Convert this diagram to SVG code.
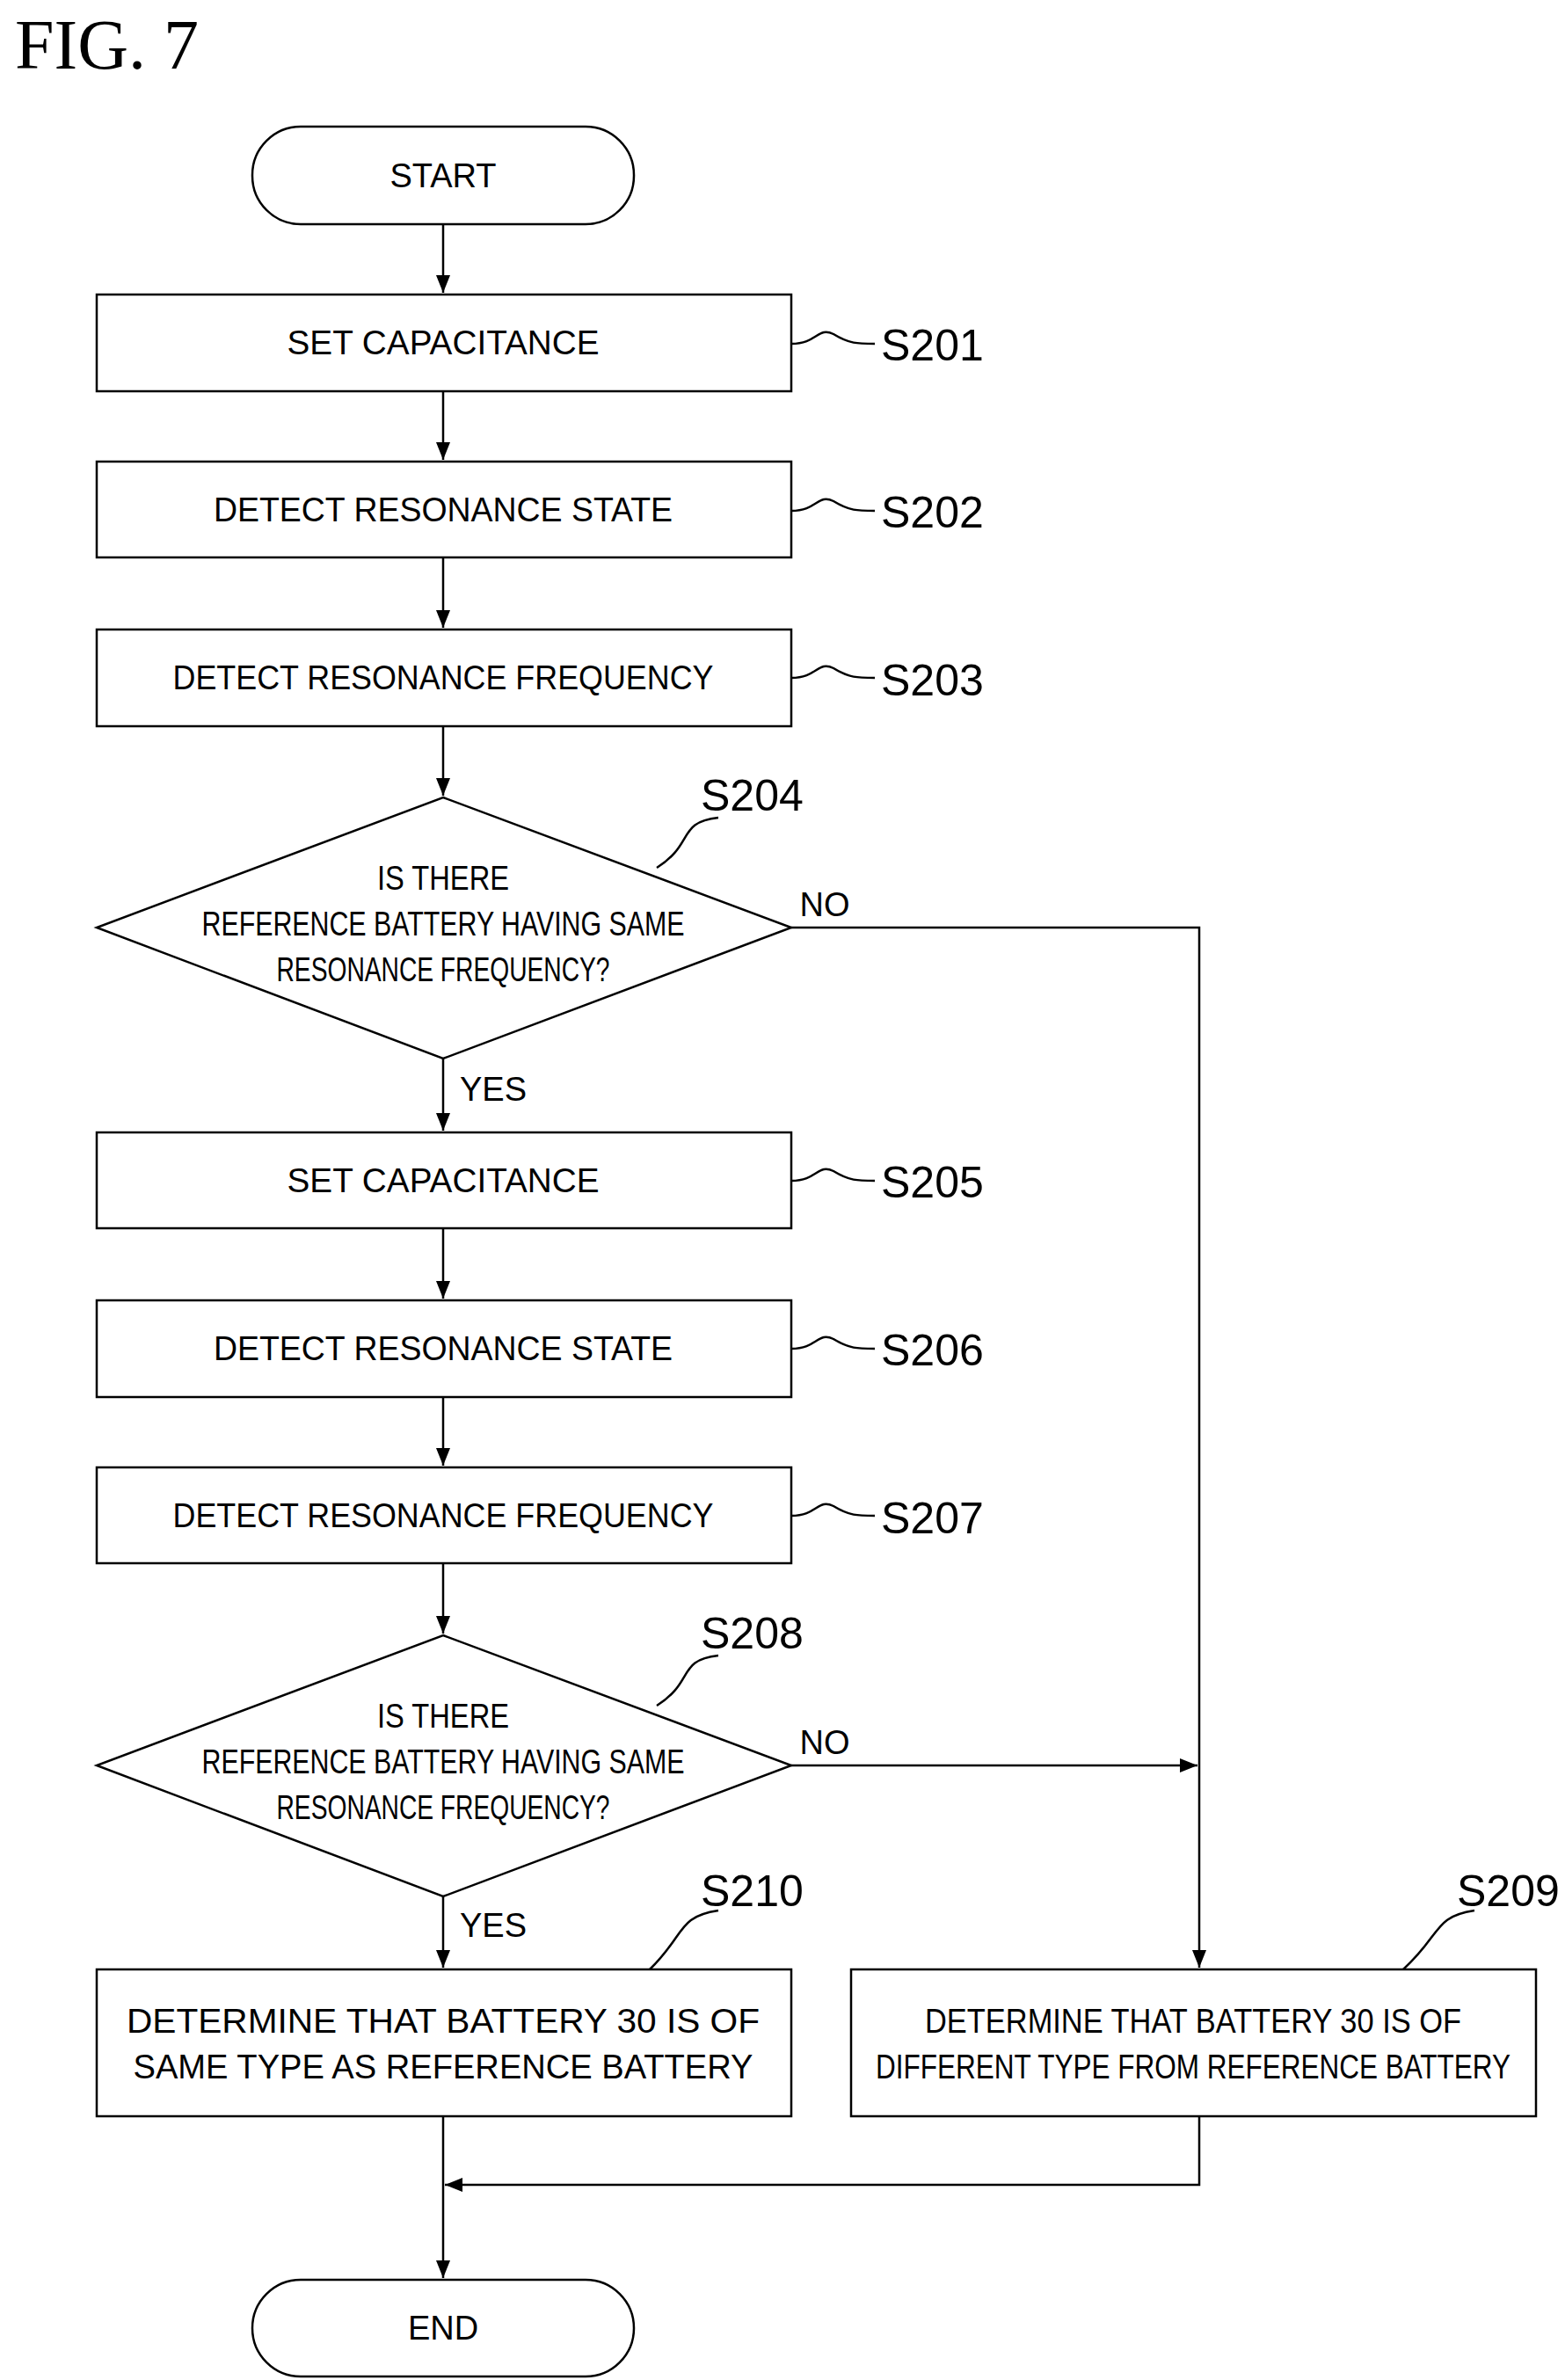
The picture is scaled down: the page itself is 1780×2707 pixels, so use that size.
<svg xmlns="http://www.w3.org/2000/svg" width="1780" height="2707" viewBox="0 0 1780 2707">
<style>
.b{fill:#fff;stroke:#000;stroke-width:2.5}
.t{font-family:"Liberation Sans",Arial,sans-serif;font-size:38px;text-anchor:middle;fill:#000}
.l{font-family:"Liberation Sans",Arial,sans-serif;font-size:50px;fill:#000}
.c{fill:none;stroke:#000;stroke-width:2.5}
</style>
<defs>
<marker id="A" markerWidth="20" markerHeight="16" refX="20" refY="8" orient="auto" markerUnits="userSpaceOnUse"><path d="M0,0 L20,8 L0,16 Z" fill="#000"/></marker></defs>
<text x="17" y="78" font-family="Liberation Serif,serif" font-size="80">FIG. 7</text>
<g id="connectors" class="c">
<path d="M504,255 V333" marker-end="url(#A)"/>
<path d="M504,445 V523" marker-end="url(#A)"/>
<path d="M504,634 V714" marker-end="url(#A)"/>
<path d="M504,826 V905" marker-end="url(#A)"/>
<path d="M504,1204 V1286" marker-end="url(#A)"/>
<path d="M504,1397 V1477" marker-end="url(#A)"/>
<path d="M504,1589 V1667" marker-end="url(#A)"/>
<path d="M504,1778 V1858" marker-end="url(#A)"/>
<path d="M504,2157 V2238" marker-end="url(#A)"/>
<path d="M504,2407 V2591" marker-end="url(#A)"/>
<path d="M900,1055 H1364 V2238" marker-end="url(#A)"/>
<path d="M900,2008 H1362" marker-end="url(#A)"/>
<path d="M1364,2407 V2485 H506" marker-end="url(#A)"/>
<path d="M900,391 C930,391 930,371 948,380 C966,391 975,391 995,391"/>
<path d="M900,581 C930,581 930,561 948,570 C966,581 975,581 995,581"/>
<path d="M900,771 C930,771 930,751 948,760 C966,771 975,771 995,771"/>
<path d="M900,1343 C930,1343 930,1323 948,1332 C966,1343 975,1343 995,1343"/>
<path d="M900,1534 C930,1534 930,1514 948,1523 C966,1534 975,1534 995,1534"/>
<path d="M900,1724 C930,1724 930,1704 948,1713 C966,1724 975,1724 995,1724"/>
<path d="M747,987 C790,960 770,935 817,930"/>
<path d="M747,1940 C790,1913 770,1888 817,1883"/>
<path d="M739,2240 C780,2200 770,2180 817,2173"/>
<path d="M1596,2240 C1640,2200 1630,2180 1677,2173"/>
</g>
<g id="start"><rect class="b" x="287" y="144" width="434" height="111" rx="55"/><text class="t" x="504" y="213">START</text></g>
<g id="s201"><rect class="b" x="110" y="335" width="790" height="110"/><text class="t" x="504" y="403" textLength="355" lengthAdjust="spacingAndGlyphs">SET  CAPACITANCE</text><text class="l" x="1002" y="410">S201</text></g>
<g id="s202"><rect class="b" x="110" y="525" width="790" height="109"/><text class="t" x="504" y="593" textLength="522" lengthAdjust="spacingAndGlyphs">DETECT  RESONANCE  STATE</text><text class="l" x="1002" y="600">S202</text></g>
<g id="s203"><rect class="b" x="110" y="716" width="790" height="110"/><text class="t" x="504" y="784" textLength="615" lengthAdjust="spacingAndGlyphs">DETECT  RESONANCE  FREQUENCY</text><text class="l" x="1002" y="791">S203</text></g>
<g id="s204"><path class="b" d="M504,907 L900,1055 L504,1204 L110,1055 Z"/>
<text class="t" x="504" y="1012" textLength="150" lengthAdjust="spacingAndGlyphs">IS THERE</text>
<text class="t" x="504" y="1064" textLength="549" lengthAdjust="spacingAndGlyphs">REFERENCE BATTERY HAVING SAME</text>
<text class="t" x="504" y="1116" textLength="379" lengthAdjust="spacingAndGlyphs">RESONANCE FREQUENCY?</text>
<text class="l" x="797" y="922">S204</text><text class="t" x="938" y="1042">NO</text><text class="t" x="561" y="1252">YES</text></g>
<g id="s205"><rect class="b" x="110" y="1288" width="790" height="109"/><text class="t" x="504" y="1356" textLength="355" lengthAdjust="spacingAndGlyphs">SET  CAPACITANCE</text><text class="l" x="1002" y="1362">S205</text></g>
<g id="s206"><rect class="b" x="110" y="1479" width="790" height="110"/><text class="t" x="504" y="1547" textLength="522" lengthAdjust="spacingAndGlyphs">DETECT  RESONANCE  STATE</text><text class="l" x="1002" y="1553">S206</text></g>
<g id="s207"><rect class="b" x="110" y="1669" width="790" height="109"/><text class="t" x="504" y="1737" textLength="615" lengthAdjust="spacingAndGlyphs">DETECT  RESONANCE  FREQUENCY</text><text class="l" x="1002" y="1744">S207</text></g>
<g id="s208"><path class="b" d="M504,1860 L900,2008 L504,2157 L110,2008 Z"/>
<text class="t" x="504" y="1965" textLength="150" lengthAdjust="spacingAndGlyphs">IS THERE</text>
<text class="t" x="504" y="2017" textLength="549" lengthAdjust="spacingAndGlyphs">REFERENCE BATTERY HAVING SAME</text>
<text class="t" x="504" y="2069" textLength="379" lengthAdjust="spacingAndGlyphs">RESONANCE FREQUENCY?</text>
<text class="l" x="797" y="1875">S208</text><text class="t" x="938" y="1995">NO</text><text class="t" x="561" y="2203">YES</text></g>
<g id="s210"><rect class="b" x="110" y="2240" width="790" height="167"/>
<text class="t" x="504" y="2312" textLength="720" lengthAdjust="spacingAndGlyphs">DETERMINE  THAT  BATTERY  30  IS  OF</text>
<text class="t" x="504" y="2364" textLength="705" lengthAdjust="spacingAndGlyphs">SAME  TYPE  AS  REFERENCE  BATTERY</text>
<text class="l" x="797" y="2168">S210</text></g>
<g id="s209"><rect class="b" x="968" y="2240" width="779" height="167"/>
<text class="t" x="1357" y="2312" textLength="610" lengthAdjust="spacingAndGlyphs">DETERMINE THAT BATTERY 30 IS OF</text>
<text class="t" x="1357" y="2364" textLength="722" lengthAdjust="spacingAndGlyphs">DIFFERENT TYPE FROM REFERENCE BATTERY</text>
<text class="l" x="1657" y="2168">S209</text></g>
<g id="end"><rect class="b" x="287" y="2593" width="434" height="110" rx="55"/><text class="t" x="504" y="2661">END</text></g>
</svg>
